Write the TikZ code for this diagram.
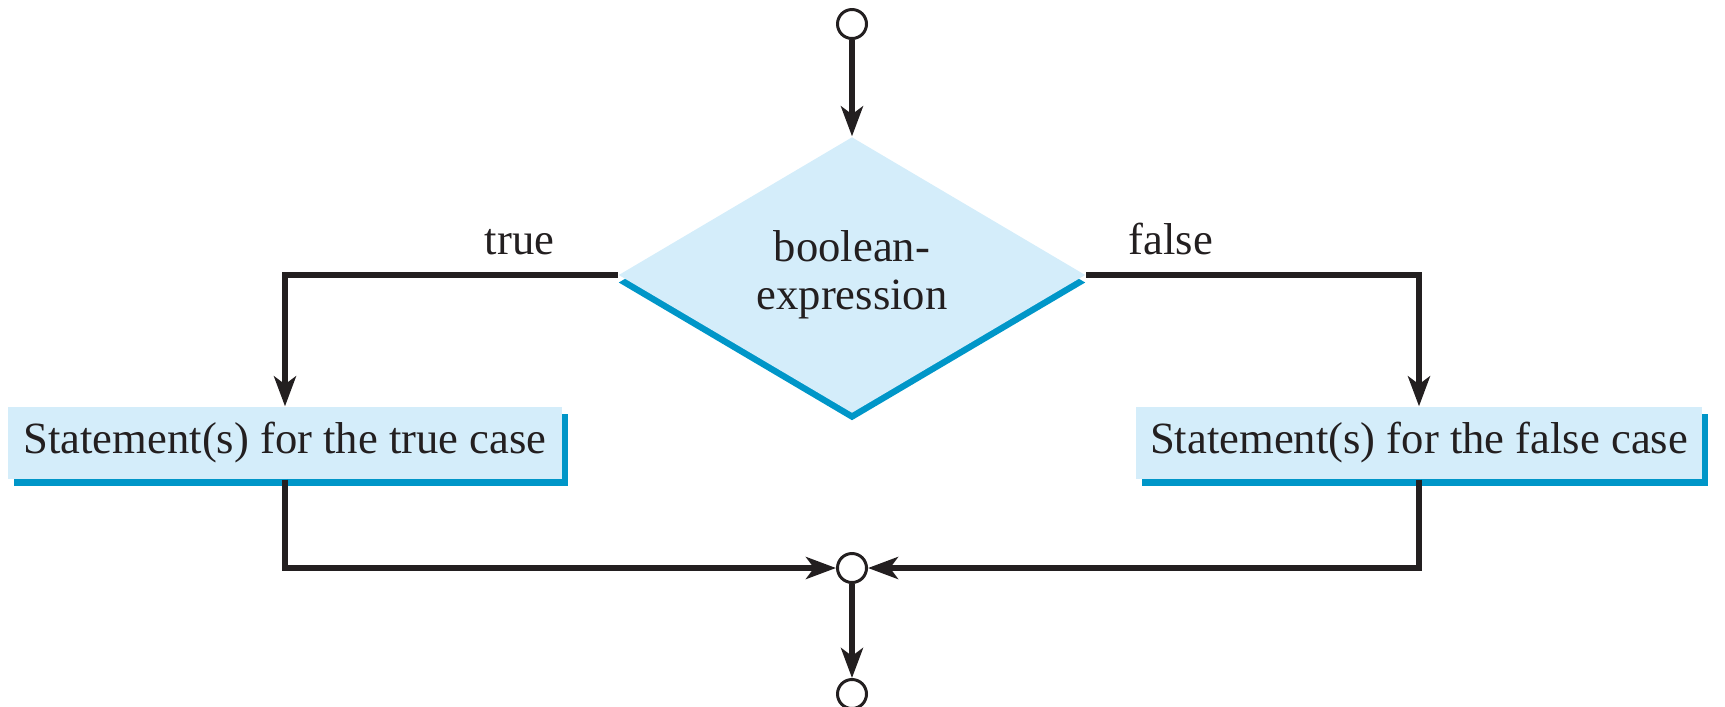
\documentclass[tikz,border=0pt]{standalone}
\usepackage{fontspec}
\setmainfont{Liberation Serif}
\usepackage{xcolor}
\usepackage{tikz}
\usetikzlibrary{arrows.meta,shapes.geometric,shadows}
\definecolor{fillC}{HTML}{D4EDFA}
\definecolor{edgeC}{HTML}{0096C8}
\definecolor{lineC}{HTML}{231F20}
\newcommand{\txtsize}{\fontsize{12.7pt}{13.6pt}\selectfont}

\begin{document}
\begin{tikzpicture}[
    flow/.style={draw=lineC,line width=1.45pt,-{Stealth[length=3mm,width=2.2mm,inset=0.8mm]}},
    pin/.style={circle,draw=lineC,fill=white,line width=0.85pt,minimum size=0.29cm,inner sep=0pt},
    decision/.style={diamond,aspect=1.7,fill=fillC,inner sep=0pt,
      minimum width=4.67cm,minimum height=2.76cm,align=center,font=\txtsize,text=lineC,
      drop shadow={shadow xshift=0pt,shadow yshift=-0.075cm,fill=edgeC,opacity=1}},
    stmt/.style={rectangle,fill=fillC,inner sep=0pt,minimum height=0.72cm,font=\txtsize,text=lineC,
      drop shadow={shadow xshift=0.06cm,shadow yshift=-0.07cm,fill=edgeC,opacity=1}},
    lbl/.style={font=\txtsize,text=lineC,inner sep=0pt}]
  \useasboundingbox (0,0) rectangle (17.25,-7.06);

  % Entry and exit points
  \node[pin] (start) at (8.52,-0.24) {};
  \node[pin] (join) at (8.52,-5.68) {};
  \node[pin] (stop) at (8.52,-6.94) {};

  % Decision diamond
  \node[decision] (cond) at (8.52,-2.75) {boolean-\\expression};

  % Statement boxes
  \node[stmt,minimum width=5.54cm] (tbox) at (2.85,-4.43) {Statement(s) for the true case};
  \node[stmt,minimum width=5.66cm] (fbox) at (14.19,-4.43) {Statement(s) for the false case};

  % Branch labels
  \node[lbl,anchor=base east] (tlbl) at (5.55,-2.54) {true};
  \node[lbl,anchor=base west] (flbl) at (11.28,-2.54) {false};

  % Connectors
  \draw[flow] (start) -- (cond.north);
  \draw[flow] (cond.west) -| (tbox.north);
  \draw[flow] (cond.east) -| (fbox.north);
  \draw[flow] (tbox.south) |- (join.west);
  \draw[flow] (fbox.south) |- (join.east);
  \draw[flow] (join) -- (stop);
\end{tikzpicture}
\end{document}
